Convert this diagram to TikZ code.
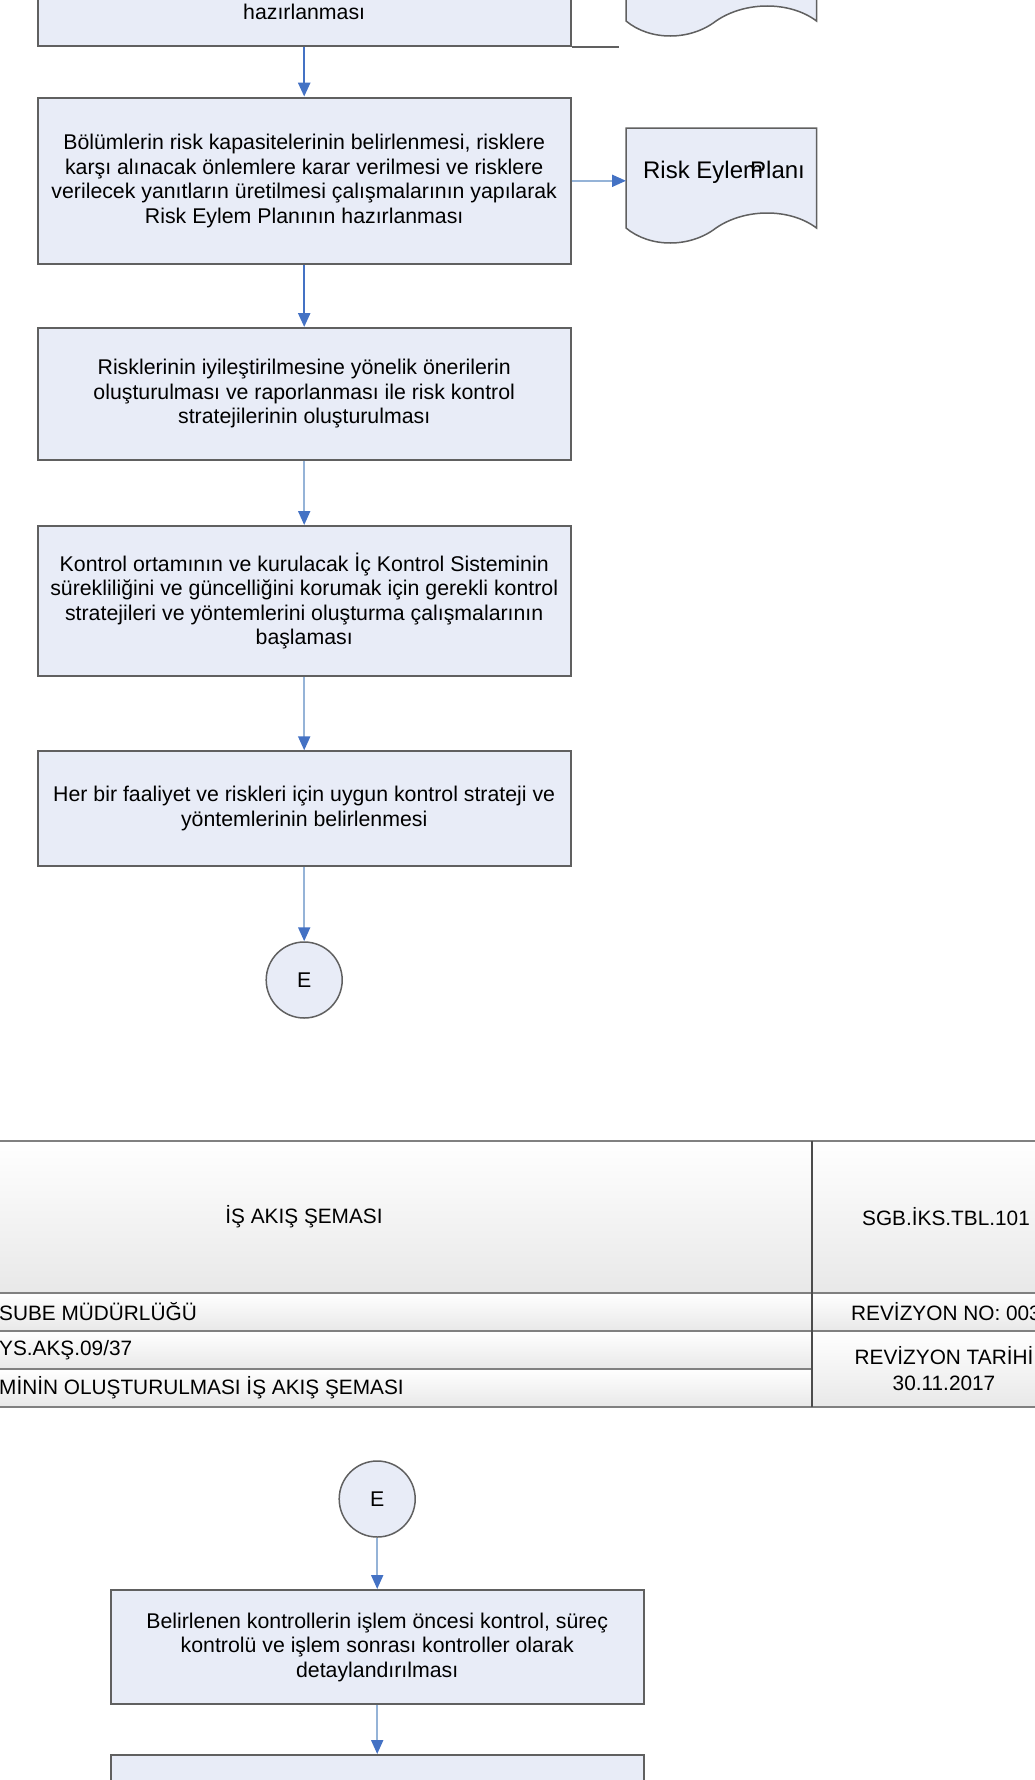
\documentclass[tikz,border=0pt]{standalone}
\usepackage{fontspec}
\setmainfont{Liberation Sans}
\usepackage{tikz}
\usetikzlibrary{arrows.meta}
\definecolor{boxfill}{RGB}{232,236,247}
\definecolor{boxline}{RGB}{96,96,96}
\definecolor{darkarrow}{RGB}{68,114,196}
\definecolor{lightarrow}{RGB}{149,179,215}
\definecolor{tabline}{RGB}{128,128,128}
\tikzset{
  pbox/.style={rectangle, draw=boxline, line width=2pt, fill=boxfill, minimum width=533pt, inner sep=0pt, align=center, font=\fontsize{21.3}{24.5}\selectfont},
  cnode/.style={circle, draw=boxline, line width=1.5pt, fill=boxfill, minimum size=76pt, inner sep=0pt, font=\fontsize{21.3}{24.5}\selectfont},
  dtext/.style={inner sep=0pt, font=\fontsize{24}{28}\selectfont},
  ttext/.style={inner sep=0pt, align=center, font=\fontsize{20.8}{26}\selectfont},
  tcell/.style={top color=white, bottom color=black!9},
  darr/.style={line width=2.5pt, darkarrow, -{Triangle[length=14pt, width=12pt]}},
  larr/.style={line width=2pt, lightarrow, -{Triangle[length=14pt, width=12pt, color=darkarrow]}},
}

\begin{document}
\begin{tikzpicture}[x=1pt, y=-1pt]
  \useasboundingbox (0,0) rectangle (1035,1780);
  \clip (0,0) rectangle (1035,1780);

  %% ==================
  %% Upper page
  %% ==================
  \node[pbox, minimum height=67.5pt] (b1) at (304.2,11.75) {hazırlanması};
  \draw[boxline, line width=2pt] (b1.south east) -- ++(47,0);

  % Document shapes (the upper one is cut by the page)
  \foreach \dy in {-207,0}
    \draw[boxline, line width=1.5pt, fill=boxfill]
      (626,228+\dy) -- (626,128+\dy) -- (816.5,128+\dy) -- (816.5,228+\dy)
      .. controls (790,208+\dy) and (745,208+\dy) .. (716,228+\dy)
      .. controls (690,248+\dy) and (650,248+\dy) .. cycle;
  \node[dtext] (plan) at (724,172) {Risk Eylem\kern-13pt Planı};
  \coordinate (planL) at (626,180.8);

  \node[pbox, minimum height=166.4pt] (b2) at (304.2,180.8)
    {Bölümlerin risk kapasitelerinin belirlenmesi, risklere\\
     karşı alınacak önlemlere karar verilmesi ve risklere\\
     verilecek yanıtların üretilmesi çalışmalarının yapılarak\\
     Risk Eylem Planının hazırlanması};
  \node[pbox, minimum height=132pt] (b3) at (304.2,394)
    {Risklerinin iyileştirilmesine yönelik önerilerin\\
     oluşturulması ve raporlanması ile risk kontrol\\
     stratejilerinin oluşturulması};
  \node[pbox, minimum height=150.4pt] (b4) at (304.2,601.2)
    {Kontrol ortamının ve kurulacak İç Kontrol Sisteminin\\
     sürekliliğini ve güncelliğini korumak için gerekli kontrol\\
     stratejileri ve yöntemlerini oluşturma çalışmalarının\\
     başlaması};
  \node[pbox, minimum height=114.7pt] (b5) at (304.2,808.7)
    {Her bir faaliyet ve riskleri için uygun kontrol strateji ve\\
     yöntemlerinin belirlenmesi};
  \node[cnode] (e1) at (304.2,980) {E};

  % Connectors
  \draw[darr] (b1.south) -- (b2.north);
  \draw[larr] (b2.east) -- (planL);
  \draw[darr] (b2.south) -- (b3.north);
  \draw[larr] (b3.south) -- (b4.north);
  \draw[larr] (b4.south) -- (b5.north);
  \draw[larr] (b5.south) -- (e1.north);

  %% ==================
  %% Page header table
  %% ==================
  \shade[tcell] (-10,1141) rectangle (812,1293);
  \shade[tcell] (812,1141) rectangle (1045,1293);
  \shade[tcell] (-10,1293) rectangle (812,1331);
  \shade[tcell] (-10,1331) rectangle (812,1369);
  \shade[tcell] (-10,1369) rectangle (812,1407);
  \shade[tcell] (812,1293) rectangle (1045,1331);
  \shade[tcell] (812,1331) rectangle (1045,1407);

  \foreach \ry in {1141,1293,1331,1407}
    \draw[tabline, line width=2.5pt] (-10,\ry) -- (1045,\ry);
  \draw[tabline, line width=2.5pt] (-10,1369) -- (812,1369);
  \draw[black!70, line width=1.3pt] (812,1141) -- (812,1407);

  \node[ttext] (ttitle) at (304,1217) {İŞ AKIŞ ŞEMASI};
  \node[ttext] (tcode) at (946,1217) {SGB.İKS.TBL.101};
  \node[ttext, anchor=west] (tunit) at (-1,1312) {SUBE MÜDÜRLÜĞÜ};
  \node[ttext] (trevno) at (946,1312) {REVİZYON NO: 003};
  \node[ttext, anchor=west] (tno) at (-1,1350) {YS.AKŞ.09/37};
  \node[ttext] (trevdate) at (944,1369) {REVİZYON TARİHİ\\30.11.2017};
  \node[ttext, anchor=west] (tname) at (-1,1388) {MİNİN OLUŞTURULMASI İŞ AKIŞ ŞEMASI};

  %% ==================
  %% Lower page
  %% ==================
  \node[cnode] (e2) at (377.2,1499) {E};
  \node[pbox, minimum height=114pt] (b6) at (377.2,1647)
    {Belirlenen kontrollerin işlem öncesi kontrol, süreç\\
     kontrolü ve işlem sonrası kontroller olarak\\
     detaylandırılması};
  \node[pbox, minimum height=115pt] (b7) at (377.2,1812.5) {};

  \draw[larr] (e2.south) -- (b6.north);
  \draw[larr] (b6.south) -- (b7.north);
\end{tikzpicture}
\end{document}
